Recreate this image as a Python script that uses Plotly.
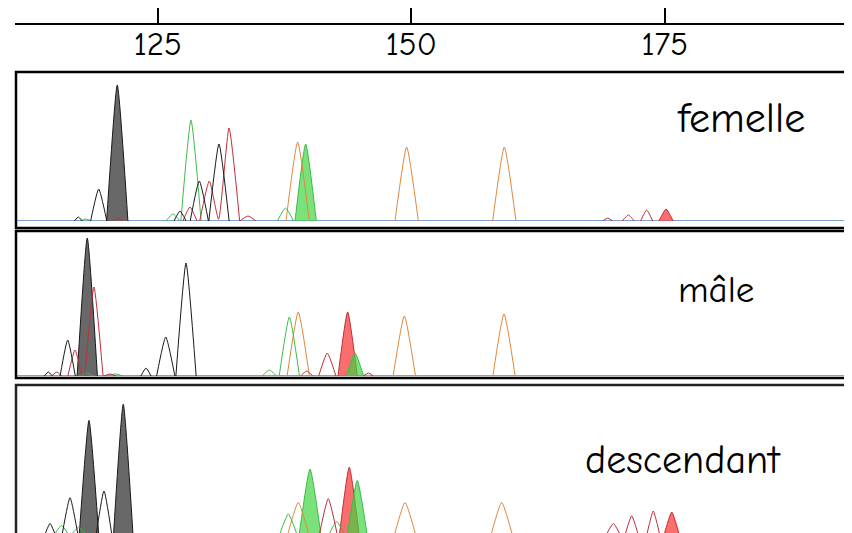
import plotly.graph_objects as go

OFF = 8  # page body margin of the html output
W, H = 852 - OFF, 533 - OFF

# ---------------- data (size in bp, height in trace units) ----------------
tick_vals = [125, 150, 175]
tick_text = ["125", "150", "175"]
panel_names = ["femelle", "mâle", "descendant"]

# each peak: (size_bp, height, half_width_bp)
fem_black = [(117.16, 4, 0.4), (119.17, 32, 0.8), (127.19, 10, 0.6), (129.09, 40, 0.9), (131.03, 77, 1.0)]
fem_green = [(117.9, 2, 0.6), (126.5, 7, 0.7), (128.27, 101, 1.0), (137.59, 13, 0.8)]
fem_red = [(121.07, 3, 0.5), (128.17, 14, 0.7), (130.08, 40, 0.95), (132.02, 93, 1.05), (133.89, 5, 0.8),
           (169.37, 3, 0.5), (171.40, 6, 0.6), (173.21, 11, 0.6)]
fem_orange = [(138.79, 79, 1.15), (149.54, 74, 1.15), (159.17, 74, 1.15)]
fem_gray_fill = [(121.00, 136, 1.05)]
fem_green_fill = [(139.58, 77, 1.05)]
fem_red_fill = [(175.12, 12, 0.7)]

male_black = [(114.2, 4, 0.4), (116.11, 36, 0.75), (123.83, 8, 0.5), (125.78, 39, 0.9), (127.78, 113, 1.0)]
male_green = [(117.98, 3, 0.6), (120.8, 2, 0.8), (136.0, 6, 0.7), (137.97, 59, 1.0)]
male_red = [(115.03, 4, 0.5), (116.83, 26, 0.7), (118.70, 89, 0.9), (120.28, 2, 0.6),
            (139.68, 5, 0.6), (141.71, 23, 0.85), (145.76, 3, 0.5)]
male_orange = [(138.85, 64, 1.1), (149.31, 60, 1.1), (159.14, 62, 1.1)]
male_gray_fill = [(118.04, 138, 1.0)]
male_green_fill = [(144.44, 23, 0.85)]
male_red_fill = [(143.72, 64, 0.95)]

desc_black = [(114.37, 10, 0.45), (116.34, 37, 0.75), (119.69, 44, 0.75)]
desc_green = [(115.5, 8, 0.6), (117.2, 6, 0.6), (137.87, 20, 0.8), (142.64, 12, 0.7)]
desc_red = [(141.81, 36, 0.85), (169.92, 10, 0.6), (171.73, 18, 0.6), (173.86, 23, 0.6)]
desc_orange = [(138.85, 32, 1.0), (149.38, 32, 1.0), (158.91, 32, 1.0)]
desc_gray_fill = [(118.21, 118, 0.95), (121.59, 135, 0.95)]
desc_green_fill = [(140.01, 67, 1.05), (144.67, 55, 0.95)]
desc_red_fill = [(143.88, 69, 0.95), (175.68, 22, 0.7)]

# ---------------- styling ----------------
C_BLACK = "#1a1a1a"
C_GREEN = "#3dbb4a"
C_RED = "#c03038"
C_ORANGE = "#e0883a"
F_GRAY = "rgb(104,104,104)"
F_GREEN = "rgba(60,212,60,0.68)"
F_RED = "rgba(250,78,78,0.82)"
C_BASE = "rgb(84,132,192)"
FONT = "Comic Sans MS, Comic Neue, Noto Sans, sans-serif"
SMOOTH = 0.5

PX_PER_BP = 10.14
PX_AT_150 = 411.33
X0_PX, X1_PX = 15, 845
x_range = [150 + (X0_PX - PX_AT_150) / PX_PER_BP, 150 + (X1_PX - PX_AT_150) / PX_PER_BP]


def py(p):
    return 1 - (p - OFF) / H


def px(p):
    return (p - OFF) / W


def outline_path(peaks):
    xs, ys = [], []
    prev = None
    for c, h, w in sorted(peaks):
        l, r = c - w, c + w
        joined = False
        if prev is not None and prev[0] + prev[2] > l:
            pc, ph, pw = prev
            xi = (ph + ph * pc / pw - h + h * c / w) / (h / w + ph / pw)
            if pc < xi < c:
                yi = h * (1 - (c - xi) / w)
                xs[-1], ys[-1] = xi, yi
                joined = True
        if not joined:
            if prev is not None:
                xs.append(None)
                ys.append(None)
            xs.append(l)
            ys.append(0)
        xs += [c, r]
        ys += [h, 0]
        prev = (c, h, w)
    return xs, ys


fig = go.Figure()

panels = [
    dict(yaxis="y2", black=fem_black, green=fem_green, red=fem_red, orange=fem_orange,
         gray_fill=fem_gray_fill, green_fill=fem_green_fill, red_fill=fem_red_fill),
    dict(yaxis="y3", black=male_black, green=male_green, red=male_red, orange=male_orange,
         gray_fill=male_gray_fill, green_fill=male_green_fill, red_fill=male_red_fill),
    dict(yaxis="y4", black=desc_black, green=desc_green, red=desc_red, orange=desc_orange,
         gray_fill=desc_gray_fill, green_fill=desc_green_fill, red_fill=desc_red_fill),
]


def filled(c, h, w, fc, lc, ya):
    return go.Scatter(x=[c - w, c, c + w], y=[0, h, 0], mode="lines", fill="toself",
                      fillcolor=fc, line=dict(color=lc, width=1, shape="spline", smoothing=SMOOTH),
                      xaxis="x", yaxis=ya, hoverinfo="skip")


for p in panels:
    ya = p["yaxis"]
    for c, h, w in p["red_fill"]:
        fig.add_trace(filled(c, h, w, F_RED, C_RED, ya))
    for c, h, w in p["green_fill"]:
        fig.add_trace(filled(c, h, w, F_GREEN, C_GREEN, ya))
    for c, h, w in p["gray_fill"]:
        fig.add_trace(filled(c, h, w, F_GRAY, C_BLACK, ya))
    for key, col in [("orange", C_ORANGE), ("green", C_GREEN), ("red", C_RED), ("black", C_BLACK)]:
        xs, ys = outline_path(p[key])
        fig.add_trace(go.Scatter(x=xs, y=ys, mode="lines",
                                 line=dict(color=col, width=1, shape="spline", smoothing=SMOOTH),
                                 connectgaps=False, xaxis="x", yaxis=ya, hoverinfo="skip"))

shapes = []
for ya in ["y2", "y3"]:
    shapes.append(dict(type="line", xref="x", yref=ya, x0=x_range[0], x1=x_range[1], y0=0, y1=0,
                       line=dict(color=C_BASE, width=1.3), layer="below"))
frames = [(16, 847, 72, 228, "black", 2.5), (16, 846, 231, 378, "black", 2.5), (16, 846, 385, 560, "#222", 2.5)]
for x0, x1, y0, y1, col, lw in frames:
    shapes.append(dict(type="rect", xref="paper", yref="paper", x0=px(x0), x1=px(x1), y0=py(y1), y1=py(y0),
                       line=dict(color=col, width=lw), fillcolor="rgba(0,0,0,0)", layer="above"))

label_pos = [(740.5, 118), (715.5, 290), (682.5, 460)]
label_size = [42, 37, 40]
annotations = []
for name, (lx, ly), fs in zip(panel_names, label_pos, label_size):
    annotations.append(dict(text=name, x=px(lx), y=py(ly), xref="paper", yref="paper", showarrow=False,
                            xanchor="center", yanchor="middle", font=dict(family=FONT, size=fs, color="black")))

fig.update_layout(
    width=W, height=H, margin=dict(l=0, r=0, t=0, b=0),
    paper_bgcolor="white", plot_bgcolor="white", showlegend=False,
    xaxis=dict(domain=[px(X0_PX), px(X1_PX)], range=x_range, anchor="free", position=py(24), side="bottom",
               showline=True, linecolor="black", linewidth=2, ticks="inside", ticklen=16, tickwidth=1.5,
               tickcolor="black", tickvals=tick_vals, ticktext=tick_text, showgrid=False, zeroline=False,
               ticklabelstandoff=-10,
               tickfont=dict(family=FONT, size=33, color="black")),
    xaxis2=dict(domain=[px(X0_PX), px(X1_PX)], range=x_range, overlaying="x", anchor="free", position=py(24),
                side="bottom", showline=False, ticks="outside", ticklen=5, tickwidth=1.5, tickcolor="black",
                tickvals=tick_vals, showticklabels=False, showgrid=False, zeroline=False),
    yaxis=dict(domain=[py(26), py(24)], visible=False),
    yaxis2=dict(domain=[py(221), py(74)], range=[0, 147], visible=False),
    yaxis3=dict(domain=[py(376), py(233)], range=[0, 143], visible=False),
    yaxis4=dict(domain=[0, py(387)], range=[0, 153], visible=False),
    shapes=shapes, annotations=annotations,
)

fig.write_html("out.html")
